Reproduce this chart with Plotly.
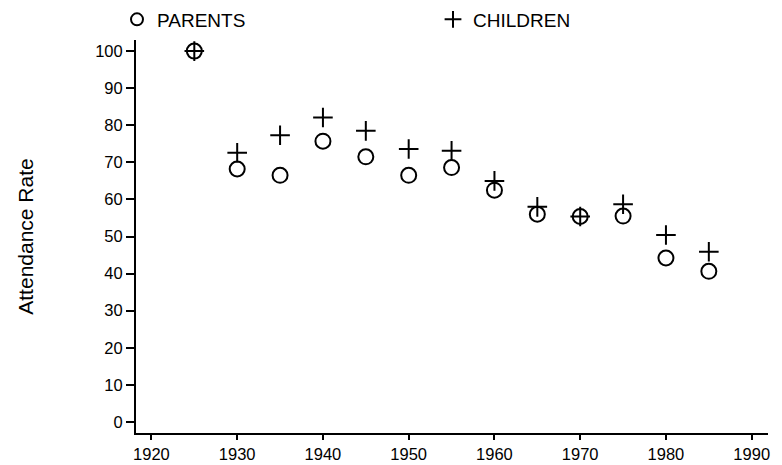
import plotly.graph_objects as go

years = [1925, 1930, 1935, 1940, 1945, 1950, 1955, 1960, 1965, 1970, 1975, 1980, 1985]
parents = [100, 68.2, 66.5, 75.7, 71.5, 66.5, 68.6, 62.5, 56.0, 55.4, 55.5, 44.2, 40.6]
children = [100, 72.6, 77.3, 82.1, 78.5, 73.6, 73.1, 65.0, 58.0, 55.4, 58.7, 50.4, 45.9]
x_ticks = [1920, 1930, 1940, 1950, 1960, 1970, 1980, 1990]
y_ticks = [0, 10, 20, 30, 40, 50, 60, 70, 80, 90, 100]

FONT = "Liberation Sans, Arial, sans-serif"

fig = go.Figure()
fig.add_trace(go.Scatter(
    x=years, y=parents, mode="markers", name="PARENTS", legend="legend",
    marker=dict(symbol="circle-open", size=15, color="black", line=dict(width=2, color="black")),
))
fig.add_trace(go.Scatter(
    x=years, y=children, mode="markers", name="CHILDREN", legend="legend2",
    marker=dict(symbol="cross-thin-open", size=14, color="black", line=dict(width=2, color="black")),
))

leg_common = dict(
    orientation="h", xref="container", yref="container",
    y=1 - 19.5 / 465, xanchor="left", yanchor="middle",
    font=dict(size=19, color="black"), itemsizing="constant",
    bgcolor="rgba(0,0,0,0)",
)

fig.update_layout(
    width=782, height=465,
    margin=dict(l=136, r=14, t=40, b=32, autoexpand=False),
    paper_bgcolor="white", plot_bgcolor="white",
    font=dict(family=FONT, size=16.5, color="black"),
    showlegend=True,
    legend=dict(x=117 / 782, **leg_common),
    legend2=dict(x=433 / 782, **leg_common),
    xaxis=dict(
        range=[1918.2, 1991.9], tickmode="array", tickvals=x_ticks,
        ticktext=[str(v) for v in x_ticks],
        showline=True, linecolor="black", linewidth=2,
        ticks="outside", ticklen=5, tickwidth=2, tickcolor="black",
        showgrid=False, zeroline=False,
    ),
    yaxis=dict(
        range=[-3, 103], tickmode="array", tickvals=y_ticks,
        ticktext=[str(v) for v in y_ticks],
        showline=True, linecolor="black", linewidth=2,
        ticks="outside", ticklen=8, tickwidth=2, tickcolor="black",
        showgrid=False, zeroline=False,
        title=dict(text="Attendance Rate", font=dict(size=21), standoff=56),
    ),
)

fig.write_html("out.html", config={"displayModeBar": False},
               post_script="document.body.style.margin='0';")
